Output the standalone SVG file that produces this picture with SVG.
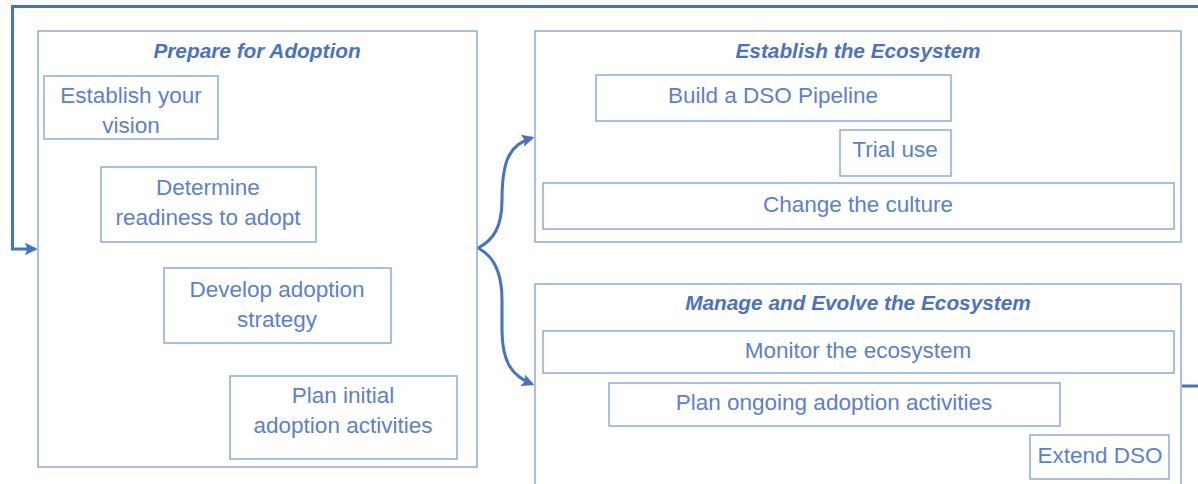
<svg xmlns="http://www.w3.org/2000/svg" width="1198" height="484" viewBox="0 0 1198 484">
  <defs>
    <style>
      .box { fill: #ffffff; stroke: #8FAADC; stroke-width: 1.5; }
      .t { font-family: "Liberation Sans", Arial, sans-serif; font-size: 22.5px; fill: #5B7FD3; text-anchor: middle; }
      .h { font-family: "Liberation Sans", Arial, sans-serif; font-size: 20.8px; font-weight: bold; font-style: italic; fill: #4A72C4; text-anchor: middle; }
      .conn { fill: none; stroke: #4472C4; stroke-width: 3; }
    </style>
    <marker id="ah" viewBox="0 0 10 10" refX="8" refY="5" markerWidth="4.2" markerHeight="4.2" orient="auto" markerUnits="strokeWidth">
      <path d="M0,0 L10,5 L0,10 L2,5 z" fill="#4472C4"/>
    </marker>
  </defs>
  <rect width="1198" height="484" fill="#ffffff"/>

  <g id="prepare">
    <rect class="box" x="38" y="31" width="439" height="436"/>
    <text class="h" x="257" y="58">Prepare for Adoption</text>
  </g>
  <g id="vision">
    <rect class="box" x="44" y="76" width="174" height="63"/>
    <text class="t" x="131" y="103">Establish your</text>
    <text class="t" x="131" y="133">vision</text>
  </g>
  <g id="readiness">
    <rect class="box" x="101" y="167" width="215" height="75"/>
    <text class="t" x="208" y="195">Determine</text>
    <text class="t" x="208" y="225">readiness to adopt</text>
  </g>
  <g id="strategy">
    <rect class="box" x="164" y="268" width="227" height="75"/>
    <text class="t" x="277" y="297">Develop adoption</text>
    <text class="t" x="277" y="327">strategy</text>
  </g>
  <g id="initial">
    <rect class="box" x="230" y="376" width="227" height="83"/>
    <text class="t" x="343" y="403">Plan initial</text>
    <text class="t" x="343" y="433">adoption activities</text>
  </g>

  <g id="establish">
    <rect class="box" x="535" y="31" width="646" height="211"/>
    <text class="h" x="858" y="58">Establish the Ecosystem</text>
  </g>
  <g id="pipeline">
    <rect class="box" x="596" y="75" width="355" height="46"/>
    <text class="t" x="773" y="103">Build a DSO Pipeline</text>
  </g>
  <g id="trial">
    <rect class="box" x="840" y="130" width="111" height="46"/>
    <text class="t" x="895" y="157">Trial use</text>
  </g>
  <g id="culture">
    <rect class="box" x="543" y="183" width="631" height="46"/>
    <text class="t" x="858" y="212">Change the culture</text>
  </g>

  <g id="manage">
    <rect class="box" x="535" y="284" width="646" height="210"/>
    <text class="h" x="858" y="310">Manage and Evolve the Ecosystem</text>
  </g>
  <g id="monitor">
    <rect class="box" x="543" y="331" width="631" height="42"/>
    <text class="t" x="858" y="358">Monitor the ecosystem</text>
  </g>
  <g id="ongoing">
    <rect class="box" x="609" y="383" width="451" height="43"/>
    <text class="t" x="834" y="410">Plan ongoing adoption activities</text>
  </g>
  <g id="extend">
    <rect class="box" x="1030" y="435" width="139" height="44"/>
    <text class="t" x="1100" y="463">Extend DSO</text>
  </g>

  <g id="connectors">
    <path class="conn" d="M1182,386 L1198,386"/>
    <path class="conn" d="M1198,6.5 L12.5,6.5 L12.5,249 L35,249" marker-end="url(#ah)"/>
    <path class="conn" d="M478,248 C494,240 502,226 502,200 C502,160 510,144 532,138" marker-end="url(#ah)"/>
    <path class="conn" d="M478,248 C494,256 502,272 502,300 L502,330 C502,362 512,376 532,384" marker-end="url(#ah)"/>
  </g>
</svg>
